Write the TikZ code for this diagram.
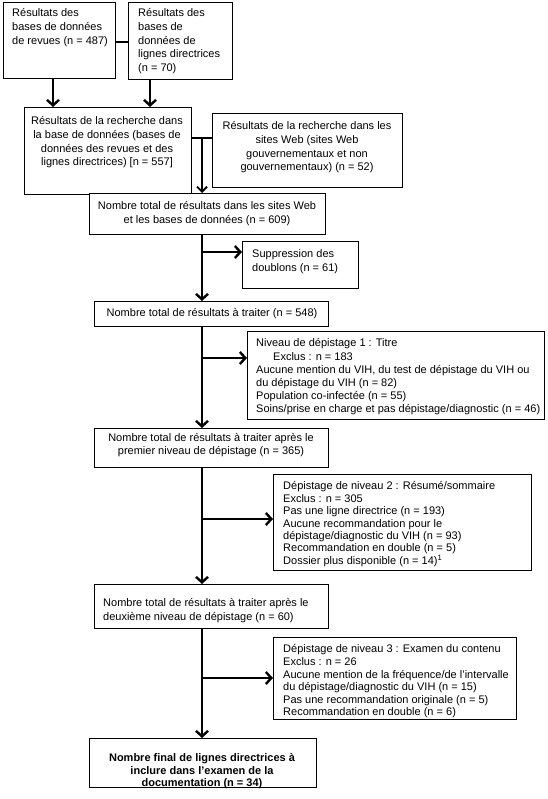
\documentclass[tikz,border=0pt]{standalone}
\usepackage{fontspec}
\setmainfont{Liberation Sans}
\usetikzlibrary{arrows.meta}
\begin{document}
\begin{tikzpicture}[x=1pt,y=-1pt,
  box/.style={draw=black, line width=0.9pt, fill=white, inner sep=0pt, anchor=north west},
  txt/.style={inner sep=0pt, yshift=-2pt, font=\fontsize{11}{13.7}\selectfont},
  flow/.style={line width=2.4pt, -{Straight Barb[length=5.5pt,width=12pt,line width=2.4pt]}},
  link/.style={line width=2.4pt},
  thinlink/.style={line width=1.8pt},
  thinflow/.style={line width=1.8pt, -{Straight Barb[length=5pt,width=10pt,line width=1.8pt]}}
]
\useasboundingbox (0,0) rectangle (547,799);
% reference columns / rows
\coordinate (ax) at (53,0);
\coordinate (bx) at (150,0);
\coordinate (sp) at (202,0);
\coordinate (aby) at (0,42);
\coordinate (cdy) at (0,138);
\coordinate (fy) at (0,252);
\coordinate (hy) at (0,358);
\coordinate (jy) at (0,519);
\coordinate (ly) at (0,678);
% boxes
\node[box, minimum width=112pt, minimum height=76pt] (a) at (3,2) {};
\node[box, minimum width=104pt, minimum height=77pt] (b) at (128,2) {};
\node[box, minimum width=167pt, minimum height=87pt] (c) at (24,107) {};
\node[box, minimum width=190pt, minimum height=74pt] (d) at (212,113) {};
\node[box, minimum width=236pt, minimum height=41pt] (e) at (89,193) {};
\node[box, minimum width=116pt, minimum height=47pt] (f) at (242,241) {};
\node[box, minimum width=234pt, minimum height=25pt] (g) at (94,301) {};
\node[box, minimum width=297pt, minimum height=88pt] (h) at (247,331) {};
\node[box, minimum width=234pt, minimum height=39pt] (i) at (94,428) {};
\node[box, minimum width=258pt, minimum height=96pt] (j) at (273,474) {};
\node[box, minimum width=234pt, minimum height=44pt] (k) at (94,584) {};
\node[box, minimum width=243pt, minimum height=82pt] (l) at (273,637) {};
\node[box, minimum width=227pt, minimum height=49pt] (m) at (89,738) {};
% texts
\node[txt, anchor=north west, align=left] (at) at (12,6.5) {Résultats des\\bases de données\\de revues (n = 487)};
\node[txt, anchor=north west, align=left] (bt) at (138,6.5) {Résultats des\\bases de\\données de\\lignes directrices\\(n = 70)};
\node[txt, anchor=north, align=center] (ct) at (107,114.5) {Résultats de la recherche dans\\la base de données (bases de\\données des revues et des\\lignes directrices) [n = 557]};
\node[txt, anchor=north, align=center] (dt) at (307,119.5) {Résultats de la recherche dans les\\sites Web (sites Web\\gouvernementaux et non\\gouvernementaux) (n = 52)};
\node[txt, anchor=north, align=center] (et) at (207,199.5) {Nombre total de résultats dans les sites Web\\et les bases de données (n = 609)};
\node[txt, anchor=north west, align=left] (ft) at (252,247.5) {Suppression des\\doublons (n = 61)};
\node[txt, anchor=north, align=center] (gt) at (212,306) {Nombre total de résultats à traiter (n = 548)};
\node[txt, anchor=north west, align=left, font=\fontsize{11}{13.2}\selectfont] (ht) at (256,336.5) {Niveau de dépistage 1 : Titre\\\hspace*{17pt}Exclus : n = 183\\Aucune mention du VIH, du test de dépistage du VIH ou\\du dépistage du VIH (n = 82)\\Population co-infectée (n = 55)\\Soins/prise en charge et pas dépistage/diagnostic (n = 46)};
\node[txt, anchor=north, align=center, font=\fontsize{11}{13}\selectfont] (it) at (211,431.5) {Nombre total de résultats à traiter après le\\premier niveau de dépistage (n = 365)};
\node[txt, anchor=north west, align=left, font=\fontsize{11}{12.4}\selectfont] (jt) at (283,479.5) {Dépistage de niveau 2 : Résumé/sommaire\\Exclus : n = 305\\Pas une ligne directrice (n = 193)\\Aucune recommandation pour le\\dépistage/diagnostic du VIH (n = 93)\\Recommandation en double (n = 5)\\Dossier plus disponible (n = 14)\textsuperscript{1}};
\node[txt, anchor=north west, align=left, font=\fontsize{11}{13.3}\selectfont] (kt) at (103,596.5) {Nombre total de résultats à traiter après le\\deuxième niveau de dépistage (n = 60)};
\node[txt, anchor=north west, align=left, font=\fontsize{11}{12.6}\selectfont] (lt) at (283,642.5) {Dépistage de niveau 3 : Examen du contenu\\Exclus : n = 26\\Aucune mention de la fréquence/de l'intervalle\\du dépistage/diagnostic du VIH (n = 15)\\Pas une recommandation originale (n = 5)\\Recommandation en double (n = 6)};
\node[txt, anchor=north, align=center, font=\bfseries\fontsize{11}{12.5}\selectfont] (mt) at (202,751.5) {Nombre final de lignes directrices à\\inclure dans l’examen de la\\documentation (n = 34)};
% connectors
\draw[link] (a.east |- aby) -- (b.west |- aby);
\draw[flow] (a.south -| ax) -- (c.north -| ax);
\draw[flow] (b.south -| bx) -- (c.north -| bx);
\draw[thinlink] (c.east |- cdy) -- (d.west |- cdy);
\draw[thinflow] (sp |- cdy) -- (e.north -| sp);
\draw[flow] (e.south -| sp) -- (g.north -| sp);
\draw[flow] (sp |- fy) -- (f.west |- fy);
\draw[flow] (g.south -| sp) -- (i.north -| sp);
\draw[flow] (sp |- hy) -- (h.west |- hy);
\draw[flow] (i.south -| sp) -- (k.north -| sp);
\draw[flow] (sp |- jy) -- (j.west |- jy);
\draw[flow] (k.south -| sp) -- (m.north -| sp);
\draw[flow] (sp |- ly) -- (l.west |- ly);
\end{tikzpicture}
\end{document}
